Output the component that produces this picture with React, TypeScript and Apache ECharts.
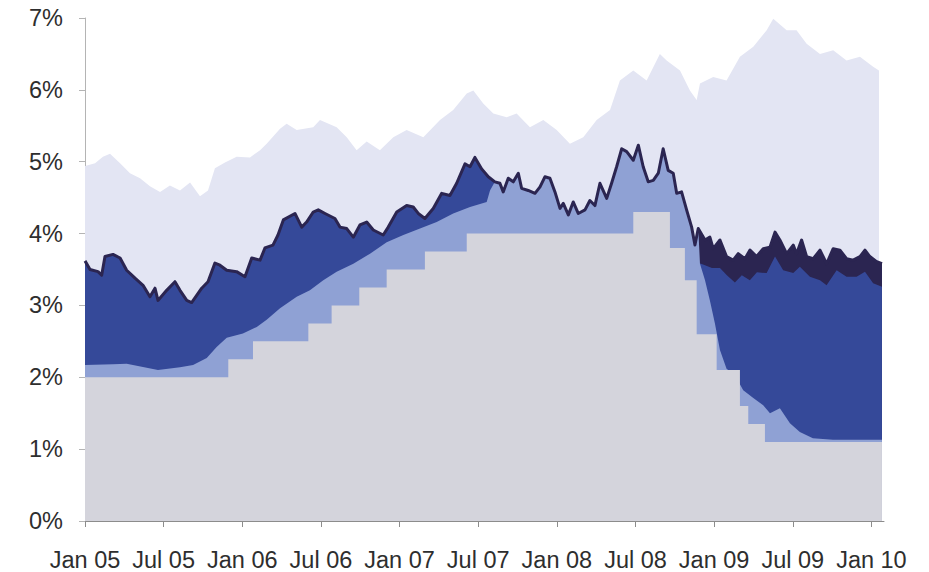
import { useEffect, useRef } from "react";
import * as echarts from "echarts";

// Time is given in decimal years (2005.5 = start of July 2005); values in %.

const xTickLabels = ["Jan 05", "Jul 05", "Jan 06", "Jul 06", "Jan 07", "Jul 07", "Jan 08", "Jul 08", "Jan 09", "Jul 09", "Jan 10"];

// Top of the pale layer
const paleT = [2005.000, 2005.064, 2005.114, 2005.159, 2005.223, 2005.286, 2005.350, 2005.413, 2005.477, 2005.540, 2005.604, 2005.668, 2005.731, 2005.782, 2005.826, 2005.890, 2005.964, 2006.049, 2006.113, 2006.155, 2006.240, 2006.282, 2006.346, 2006.451, 2006.494, 2006.600, 2006.664, 2006.727, 2006.791, 2006.875, 2006.960, 2007.045, 2007.151, 2007.257, 2007.341, 2007.427, 2007.469, 2007.532, 2007.596, 2007.681, 2007.744, 2007.829, 2007.914, 2007.999, 2008.083, 2008.168, 2008.253, 2008.338, 2008.401, 2008.486, 2008.571, 2008.655, 2008.698, 2008.783, 2008.846, 2008.889, 2008.910, 2008.994, 2009.079, 2009.164, 2009.249, 2009.334, 2009.376, 2009.461, 2009.524, 2009.588, 2009.673, 2009.757, 2009.842, 2009.927, 2010.011, 2010.048];
const paleV = [4.94, 4.98, 5.07, 5.11, 4.98, 4.84, 4.77, 4.66, 4.58, 4.67, 4.60, 4.71, 4.52, 4.60, 4.91, 4.99, 5.07, 5.06, 5.16, 5.25, 5.46, 5.53, 5.44, 5.48, 5.58, 5.48, 5.34, 5.16, 5.28, 5.16, 5.34, 5.44, 5.34, 5.58, 5.72, 5.95, 5.99, 5.81, 5.67, 5.62, 5.67, 5.48, 5.58, 5.44, 5.25, 5.34, 5.58, 5.72, 6.13, 6.27, 6.13, 6.50, 6.41, 6.27, 5.99, 5.86, 6.09, 6.18, 6.13, 6.46, 6.60, 6.83, 6.99, 6.83, 6.83, 6.64, 6.50, 6.55, 6.41, 6.46, 6.32, 6.27];

// Dark navy line (top of the blue layers)
const navyT = [2005.000, 2005.032, 2005.083, 2005.106, 2005.127, 2005.178, 2005.223, 2005.265, 2005.318, 2005.369, 2005.413, 2005.445, 2005.464, 2005.519, 2005.572, 2005.604, 2005.647, 2005.678, 2005.710, 2005.742, 2005.782, 2005.826, 2005.858, 2005.901, 2005.964, 2006.017, 2006.060, 2006.113, 2006.144, 2006.195, 2006.227, 2006.261, 2006.335, 2006.378, 2006.409, 2006.451, 2006.483, 2006.526, 2006.589, 2006.621, 2006.664, 2006.706, 2006.748, 2006.791, 2006.833, 2006.896, 2006.928, 2006.982, 2007.045, 2007.087, 2007.119, 2007.161, 2007.214, 2007.268, 2007.320, 2007.363, 2007.416, 2007.448, 2007.479, 2007.522, 2007.564, 2007.606, 2007.638, 2007.659, 2007.691, 2007.723, 2007.755, 2007.776, 2007.818, 2007.861, 2007.893, 2007.924, 2007.956, 2007.988, 2008.020, 2008.041, 2008.073, 2008.104, 2008.136, 2008.179, 2008.210, 2008.242, 2008.274, 2008.317, 2008.348, 2008.380, 2008.412, 2008.444, 2008.486, 2008.518, 2008.549, 2008.581, 2008.613, 2008.645, 2008.676, 2008.708, 2008.740, 2008.762, 2008.793, 2008.825, 2008.857, 2008.878, 2008.899, 2008.942, 2008.973, 2008.994, 2009.037, 2009.079, 2009.121, 2009.153, 2009.196, 2009.228, 2009.270, 2009.312, 2009.355, 2009.387, 2009.418, 2009.461, 2009.503, 2009.524, 2009.556, 2009.588, 2009.630, 2009.673, 2009.715, 2009.757, 2009.800, 2009.842, 2009.884, 2009.927, 2009.959, 2009.990, 2010.033, 2010.067];
const navyV = [3.62, 3.50, 3.47, 3.42, 3.68, 3.71, 3.66, 3.49, 3.38, 3.28, 3.12, 3.24, 3.07, 3.21, 3.33, 3.21, 3.07, 3.04, 3.14, 3.24, 3.33, 3.59, 3.56, 3.49, 3.47, 3.40, 3.66, 3.63, 3.80, 3.84, 3.98, 4.19, 4.28, 4.09, 4.16, 4.30, 4.33, 4.28, 4.21, 4.09, 4.07, 3.95, 4.12, 4.16, 4.05, 3.98, 4.09, 4.30, 4.39, 4.37, 4.28, 4.21, 4.35, 4.56, 4.53, 4.70, 4.97, 4.93, 5.06, 4.90, 4.79, 4.72, 4.70, 4.58, 4.77, 4.72, 4.84, 4.63, 4.60, 4.56, 4.65, 4.79, 4.77, 4.58, 4.35, 4.42, 4.26, 4.44, 4.28, 4.33, 4.46, 4.39, 4.70, 4.49, 4.70, 4.93, 5.18, 5.14, 5.02, 5.23, 4.93, 4.72, 4.74, 4.84, 5.18, 4.88, 4.84, 4.56, 4.58, 4.33, 4.09, 3.84, 4.07, 3.91, 3.95, 3.79, 3.91, 3.68, 3.63, 3.72, 3.65, 3.77, 3.68, 3.79, 3.81, 4.02, 3.91, 3.72, 3.84, 3.72, 3.91, 3.68, 3.65, 3.77, 3.58, 3.79, 3.77, 3.65, 3.63, 3.68, 3.77, 3.68, 3.61, 3.58];

// Top of the dark blue layer where a wide navy band sits above it (late 2008 on)
const darkLateT = [2008.891, 2008.942, 2008.986, 2009.037, 2009.081, 2009.132, 2009.176, 2009.227, 2009.272, 2009.334, 2009.387, 2009.439, 2009.503, 2009.545, 2009.609, 2009.673, 2009.715, 2009.779, 2009.842, 2009.906, 2009.959, 2010.011, 2010.067];
const darkLateV = [3.60, 3.56, 3.52, 3.52, 3.42, 3.32, 3.42, 3.35, 3.46, 3.45, 3.68, 3.49, 3.45, 3.54, 3.40, 3.35, 3.28, 3.49, 3.40, 3.40, 3.47, 3.31, 3.26];

// Top of the light blue layer (between these two stretches it reaches the navy line)
const lightEarlyT = [2005.000, 2005.178, 2005.265, 2005.464, 2005.604, 2005.687, 2005.774, 2005.837, 2005.901, 2006.004, 2006.092, 2006.155, 2006.240, 2006.346, 2006.430, 2006.515, 2006.600, 2006.706, 2006.812, 2006.918, 2007.024, 2007.130, 2007.236, 2007.341, 2007.448, 2007.554, 2007.575];
const lightEarlyV = [2.17, 2.18, 2.19, 2.10, 2.14, 2.17, 2.27, 2.42, 2.55, 2.61, 2.70, 2.80, 2.96, 3.12, 3.21, 3.35, 3.47, 3.58, 3.72, 3.88, 3.98, 4.07, 4.16, 4.28, 4.37, 4.44, 4.60];
const lightLateT = [2008.910, 2008.942, 2008.973, 2009.005, 2009.037, 2009.079, 2009.132, 2009.185, 2009.249, 2009.312, 2009.355, 2009.418, 2009.482, 2009.545, 2009.628, 2009.755, 2010.067];
const lightLateV = [3.58, 3.35, 3.07, 2.75, 2.38, 2.12, 2.03, 1.82, 1.71, 1.61, 1.50, 1.57, 1.36, 1.24, 1.15, 1.13, 1.13];

// Grey policy-rate steps (date each level starts)
const greyT = [2005.0, 2005.911, 2006.068, 2006.420, 2006.568, 2006.744, 2006.918, 2007.161, 2007.427, 2008.486, 2008.719, 2008.814, 2008.889, 2009.016, 2009.164, 2009.217, 2009.323, 2010.067];
const greyV = [2.0, 2.25, 2.5, 2.75, 3.0, 3.25, 3.5, 3.75, 4.0, 4.3, 3.8, 3.35, 2.6, 2.1, 1.6, 1.35, 1.1, 1.1];

const yTickValues = [0, 1, 2, 3, 4, 5, 6, 7];

const COLORS = {
  pale: "#e3e5f3",
  dark: "#354999",
  navy: "#2b2551",
  light: "#8fa1d4",
  grey: "#d4d4dc",
};

const FONT = "'Liberation Sans', Arial, sans-serif";

function pairs(t: number[], v: number[]) {
  return t.map((x, i) => [x, v[i]]);
}

function area(name: string, data: number[][], color: string, extra: any = {}) {
  return {
    type: "line",
    name,
    data,
    symbol: "none",
    showSymbol: false,
    silent: true,
    lineStyle: { width: 0, opacity: 0 },
    areaStyle: { color, opacity: 1 },
    ...extra,
  };
}

export default function App() {
  const ref = useRef<HTMLDivElement>(null);

  useEffect(() => {
    if (!ref.current) return;
    const chart = echarts.init(ref.current, null, { renderer: "svg" });

    const navy = pairs(navyT, navyV);
    const lightStart = lightEarlyT[lightEarlyT.length - 1];
    const lightResume = lightLateT[0];
    const lightData = [
      ...pairs(lightEarlyT, lightEarlyV),
      ...navy.filter((p) => p[0] > lightStart && p[0] < lightResume),
      ...pairs(lightLateT, lightLateV),
    ];
    const navyLate = navy.filter((p) => p[0] >= darkLateT[0]);
    const xTickValues = xTickLabels.map((_, i) => 2005 + i * 0.5);

    chart.setOption({
      animation: false,
      backgroundColor: "#ffffff",
      grid: { left: 85, right: 45, top: 18, bottom: 51, containLabel: false },
      xAxis: {
        type: "value",
        min: 2005,
        max: 2010.08,
        interval: 0.5,
        axisLine: { show: true, lineStyle: { color: "#8c8c8c", width: 1 } },
        axisTick: { show: true, length: 6, lineStyle: { color: "#8c8c8c" }, customValues: xTickValues },
        splitLine: { show: false },
        axisLabel: {
          customValues: xTickValues,
          margin: 27,
          fontSize: 23.5,
          color: "#2e2e2e",
          fontFamily: FONT,
          formatter: (v: number) => {
            const k = (v - 2005) * 2;
            if (Math.abs(k - Math.round(k)) > 0.01) return "";
            return xTickLabels[Math.round(k)] ?? "";
          },
        },
      },
      yAxis: {
        type: "value",
        min: 0,
        max: 7,
        interval: 1,
        axisLine: { show: true, lineStyle: { color: "#b4b4b4", width: 1 } },
        axisTick: { show: true, length: 6, lineStyle: { color: "#b4b4b4" }, customValues: yTickValues },
        splitLine: { show: false },
        axisLabel: {
          customValues: yTickValues,
          margin: 22,
          fontSize: 23.5,
          color: "#2e2e2e",
          fontFamily: FONT,
          formatter: "{value}%",
        },
      },
      series: [
        area("Pale layer", pairs(paleT, paleV), COLORS.pale),
        area("Dark blue layer", navy, COLORS.dark),
        area("Navy band", navyLate, COLORS.navy),
        area("Dark blue layer (late)", pairs(darkLateT, darkLateV), COLORS.dark),
        area("Light blue layer", lightData, COLORS.light),
        area("Policy rate", pairs(greyT, greyV), COLORS.grey, { step: "end" }),
        {
          type: "line",
          name: "Navy line",
          data: navy,
          symbol: "none",
          showSymbol: false,
          silent: true,
          lineStyle: { color: COLORS.navy, width: 3, join: "round" },
        },
      ],
    });

    return () => chart.dispose();
  }, []);

  return (
    <div
      ref={ref}
      style={{ position: "fixed", left: 0, top: 0, width: 929, height: 572, background: "#ffffff" }}
    />
  );
}
